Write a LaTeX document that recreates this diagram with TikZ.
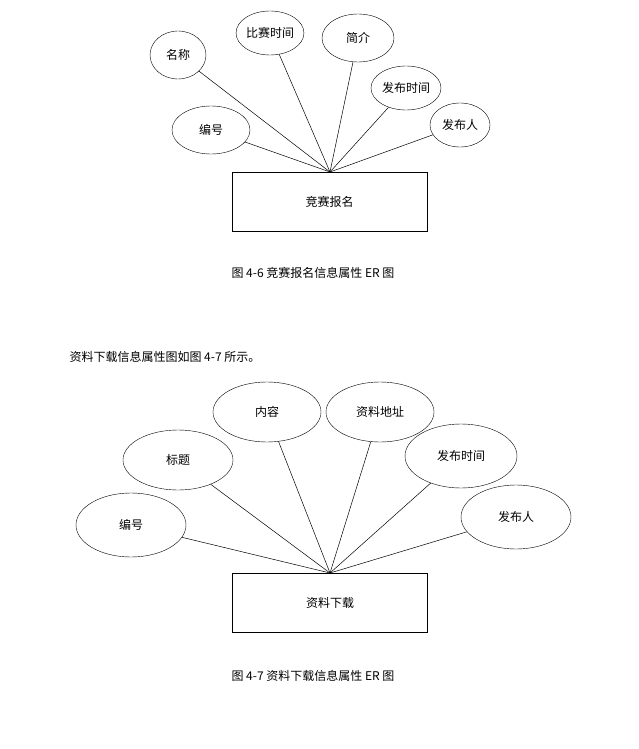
\documentclass[tikz,border=0pt]{standalone}
\usepackage{fontspec}
\newfontfamily\cjk{Noto Sans CJK SC}
\usetikzlibrary{shapes.geometric}
\begin{document}
\begin{tikzpicture}[x=1pt,y=-1pt,font=\cjk\fontsize{12}{14}\selectfont,
 attr/.style={draw,ellipse,inner sep=0pt,minimum width=2*#1},
 ent/.style={draw,rectangle,minimum width=195pt,minimum height=59pt},
 lk/.style={line width=0.5pt}]
\useasboundingbox (0,0) rectangle (638,749);
% top
\node[ent] (e1) at (329.5,201.5) {竞赛报名};
\coordinate (c1) at (330,172);
\node[draw,ellipse,minimum width=56pt,minimum height=48pt,inner sep=0pt] (a1) at (178,55) {名称};
\node[draw,ellipse,minimum width=66pt,minimum height=44pt,inner sep=0pt] (a2) at (270,33) {比赛时间};
\node[draw,ellipse,minimum width=72pt,minimum height=48pt,inner sep=0pt] (a3) at (358,38) {简介};
\node[draw,ellipse,minimum width=70pt,minimum height=44pt,inner sep=0pt] (a4) at (406,88) {发布时间};
\node[draw,ellipse,minimum width=60pt,minimum height=44pt,inner sep=0pt] (a5) at (460,125) {发布人};
\node[draw,ellipse,minimum width=78pt,minimum height=48pt,inner sep=0pt] (a6) at (211,130) {编号};
\foreach \n in {a1,a2,a3,a4,a5,a6} \draw[lk] (\n) -- (c1);
\node (cap1) at (313,273) {图 4-6 竞赛报名信息属性 ER 图};
\node[anchor=west] (p) at (66,357) {资料下载信息属性图如图 4-7 所示。};
% bottom
\node[ent] (e2) at (330,602.5) {资料下载};
\coordinate (c2) at (330,573);
\node[draw,ellipse,minimum width=108pt,minimum height=60pt,inner sep=0pt] (b1) at (267,412) {内容};
\node[draw,ellipse,minimum width=108pt,minimum height=60pt,inner sep=0pt] (b2) at (380,412) {资料地址};
\node[draw,ellipse,minimum width=110pt,minimum height=60pt,inner sep=0pt] (b3) at (178,460) {标题};
\node[draw,ellipse,minimum width=112pt,minimum height=64pt,inner sep=0pt] (b4) at (461,456) {发布时间};
\node[draw,ellipse,minimum width=110pt,minimum height=64pt,inner sep=0pt] (b5) at (131,525) {编号};
\node[draw,ellipse,minimum width=110pt,minimum height=64pt,inner sep=0pt] (b6) at (516,517) {发布人};
\foreach \n in {b1,b2,b3,b4,b5,b6} \draw[lk] (\n) -- (c2);
\node (cap2) at (313,676) {图 4-7 资料下载信息属性 ER 图};
\end{tikzpicture}
\end{document}
